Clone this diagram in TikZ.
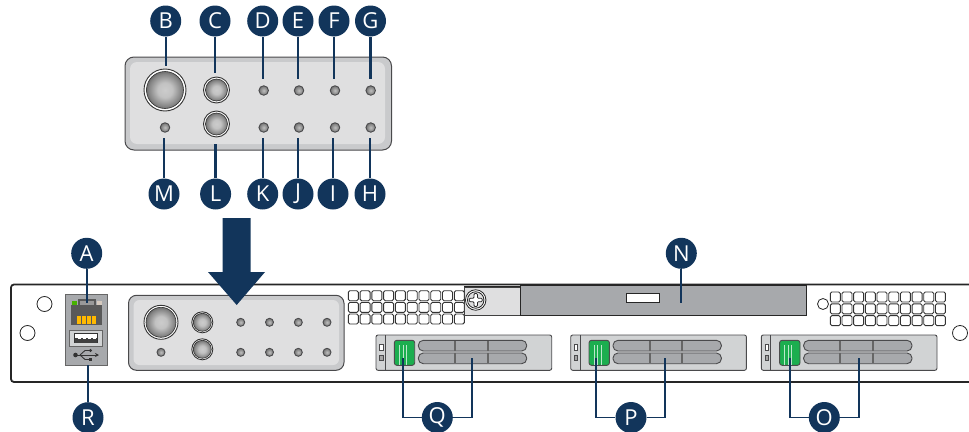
\documentclass[tikz,border=0pt]{standalone}
\usepackage{fontspec}
\setmainfont{Open Sans}
\usepackage{tikz}
\usetikzlibrary{arrows.meta,positioning,calc}
\definecolor{navy}{HTML}{12355B}
\definecolor{panelrim}{HTML}{C9CACC}
\definecolor{panelface}{HTML}{DFDFE0}
\definecolor{metal}{HTML}{A7A9AC}
\definecolor{baygray}{HTML}{D1D3D4}
\definecolor{edge}{HTML}{4A4A4C}
\definecolor{hddgreen}{HTML}{1CAE4F}
\pgfdeclareradialshading{btnshade}{\pgfpointorigin}{color(0bp)=(black!20); color(10bp)=(black!24); color(22bp)=(black!48); color(34bp)=(black!82); color(50bp)=(black!82)}
\begin{document}
\begin{tikzpicture}[x=1pt, y=-1pt,
    lbl/.style={circle, fill=navy, text=white, minimum size=31pt, inner sep=0pt, font=\fontsize{22}{22}\selectfont},
    lead/.style={draw=navy, line width=2.4pt},
    leadthin/.style={draw=navy, line width=1.8pt},
    led/.style={circle, draw=edge, line width=0.9pt, inner color=black!25, outer color=black!55, inner sep=0pt},
    ring/.style={circle, draw=black!80, line width=0.9pt, fill=white, inner sep=0pt},
    btn/.style={circle, draw=black!80, line width=0.6pt, shading=btnshade, inner sep=0pt},
    hole/.style={circle, draw=black!85, line width=0.8pt, fill=white, inner sep=0pt},
    vent/.style={draw=black!80, line width=0.9pt, fill=white, rounded corners=1.5pt, minimum width=10pt, minimum height=10pt, inner sep=0pt},
    slot/.style={draw=edge, line width=0.9pt, fill=metal, rounded corners=5pt}
]
\useasboundingbox (0,0) rectangle (969,431);

% chassis
\draw[black!85, line width=1.8pt, rounded corners=3pt] (971,284.5) -- (11,284.5) -- (11,382) -- (971,382);
\node[hole, minimum size=15pt] (holeA) at (44.5,304) {};
\node[hole, minimum size=15pt] (holeB) at (27.5,333) {};
\node[hole, minimum size=11pt] (holeC) at (823,304) {};
\node[hole, minimum size=15pt] (holeD) at (960,333) {};

% vents
\foreach \r in {0,1,2}
  \foreach \c in {0,...,9} {
    \node[vent] (ventL\r\c) at ({353.3+\c*11.78},{295.7+\r*11.67}) {};
    \node[vent] (ventR\r\c) at ({835.3+\c*11.68},{297+\r*11.8}) {};
  }

% top panel
\draw[edge, line width=1pt, fill=panelrim, rounded corners=9pt] (125,57) rectangle (391.5,150);
\fill[panelface, rounded corners=7pt] (130,62) rectangle (385,144);
\node[ring, minimum size=42pt] (ringB) at (165,90) {};
\node[btn, minimum size=37pt] (btnB) at (165,90) {};
\node[ring, minimum size=26pt] (ringC) at (216.5,90) {};
\node[btn, minimum size=22pt] (btnC) at (216.5,90) {};
\node[ring, minimum size=26pt] (ringL) at (216.5,124) {};
\node[btn, minimum size=22pt] (btnL) at (216.5,124) {};
\node[led, minimum size=9.5pt] (ledM) at (165,127.5) {};
\foreach \n/\x in {D/263.7,E/299,F/335,G/370.7}
  \node[led, minimum size=9.5pt] (led\n) at (\x,90.5) {};
\foreach \n/\x in {K/263.7,J/299,I/335,H/370.7}
  \node[led, minimum size=9.5pt] (led\n) at (\x,127.5) {};

% labels of top panel
\foreach \n/\x/\e in {B/165.7/66,C/215/72.7,D/262.7/78.7,E/298/78.7,F/334/78.7,G/370.5/78.7} {
  \node[lbl] (lbl\n) at (\x,21) {\n};
  \coordinate (end\n) at (\x,\e);
  \draw[lead] (lbl\n) -- (end\n);
}
\foreach \n/\x/\e in {M/164/138,L/215.6/144,K/262.7/138,J/298/138,I/333/138,H/370/138} {
  \node[lbl] (lbl\n) at (\x,194) {\n};
  \coordinate (end\n) at (\x,\e);
  \draw[lead] (lbl\n) -- (end\n);
}

% small panel
\draw[edge, line width=1pt, fill=panelrim, rounded corners=8pt] (128.5,295.3) rectangle (344,370.3);
\fill[panelface, rounded corners=6pt] (133.5,300) rectangle (339,365);
\node[ring, minimum size=34pt] (ringBs) at (161,322.3) {};
\node[btn, minimum size=30pt] (btnBs) at (161,322.3) {};
\node[ring, minimum size=21pt] (ringCs) at (202.3,322.3) {};
\node[btn, minimum size=18pt] (btnCs) at (202.3,322.3) {};
\node[ring, minimum size=21pt] (ringLs) at (202.3,349.3) {};
\node[btn, minimum size=18pt] (btnLs) at (202.3,349.3) {};
\node[led, minimum size=8pt] (ledMs) at (161,352.3) {};
\foreach \i/\x in {1/240.7,2/269.5,3/298.3,4/327} {
  \node[led, minimum size=8pt] (ledUs\i) at (\x,322.3) {};
  \node[led, minimum size=8pt] (ledDs\i) at (\x,352.3) {};
}

% big arrow
\fill[navy] (222.7,218) -- (250.7,218) -- (250.7,272) -- (265,272) -- (236.7,305) -- (208,272) -- (222.7,272) -- cycle;

% io block
\draw[black!60, line width=0.8pt, fill=metal] (65,294) rectangle (107.5,365);
\fill[black!65] (71,305) rectangle (102,324.5);
\fill[black!65] (77.5,299) rectangle (96,305);
\fill[black!40] (79.5,301) rectangle (94,305);
\fill[green!60!yellow!70!black] (72,301) rectangle (77,305);
\fill[orange!35!black!25] (97,301) rectangle (101.5,305);
\foreach \x in {76.5,81.7,86.9,92.1}
  \fill[orange!55!yellow] (\x,316) rectangle +(4.2,8);
\draw[black!60, line width=0.8pt, fill=baygray] (69.7,330) rectangle (102.3,346.7);
\draw[black!80, line width=0.8pt, fill=white] (74.5,333.5) rectangle (97.5,342.5);
\fill[black!75] (75,337.5) rectangle (97,342.5);
\foreach \x in {78,83,88,93}
  \fill[white] (\x,337.5) rectangle +(2.5,1.5);
\draw[black!80, line width=0.9pt, -{Stealth[length=4pt,width=4pt]}] (74,355) -- (99,355);
\fill[black!80] (75.5,355) circle (2.3pt);
\draw[black!80, line width=0.9pt] (80,355) -- (85,350.5) -- (89,350.5);
\draw[black!80, line width=0.9pt] (80,355) -- (85,359.5) -- (89,359.5);
\fill[black!80] (90.5,350.5) circle (1.6pt);
\fill[black!80] (89,358) rectangle (92,361);

% tray and screw
\draw[black!75, line width=0.8pt, fill=panelface] (464.3,287.7) rectangle (520.3,315);
\draw[black!85, line width=1pt, fill=metal] (520.3,285.5) rectangle (806.7,315.3);
\fill[black!85] (464.3,285.5) rectangle (520.3,287.2);
\draw[black!85, line width=0.8pt, fill=white] (626,293.7) rectangle (659.3,302);
\node[hole, minimum size=20.5pt] (screwA) at (475.7,300) {};
\node[hole, minimum size=16.5pt, fill=panelface] (screwB) at (475.7,300) {};
\draw[black!85, line width=0.8pt, fill=white, rounded corners=1pt]
  (474,293.5) -- (477.4,293.5) -- (477.4,298.3) -- (482.2,298.3) -- (482.2,301.7) -- (477.4,301.7) -- (477.4,306.5) -- (474,306.5) -- (474,301.7) -- (469.2,301.7) -- (469.2,298.3) -- (474,298.3) -- cycle;

% drive bays
\foreach \n/\d in {Q/0,P/194.7,O/385.3} {
\begin{scope}[xshift=\d pt]
  \draw[edge, line width=0.9pt, fill=baygray, rounded corners=2pt] (376,335) rectangle (551.7,370.3);
  \draw[edge, line width=0.9pt] (385.3,335) -- (385.3,370.3);
  \draw[edge, line width=0.7pt, fill=white] (379.8,344.5) rectangle (383,350);
  \draw[edge, line width=0.7pt, fill=black!35] (379.8,355) rectangle (383,360.5);
  \draw[black!70, line width=0.9pt, fill=hddgreen, rounded corners=2.5pt] (394.3,340.3) rectangle (414.7,365.3);
  \foreach \x in {399.5,403,406.5}
    \draw[white!70!hddgreen, line width=0.8pt] (\x,345) -- (\x,364.5);
  \draw[slot] (418.3,340.3) rectangle (526.7,351);
  \draw[slot] (418.3,353) rectangle (526.7,363.7);
  \foreach \x in {455,487.7} {
    \fill[black!60] (\x-1,340.7) rectangle (\x+1,350.6);
    \fill[black!60] (\x-1,353.4) rectangle (\x+1,363.3);
  }
\end{scope}
}

% labels of front
\node[lbl] (lblA) at (86.7,253.3) {A};
\coordinate (endA) at (86.7,303);
\draw[leadthin] (lblA) -- (endA);
\node[lbl] (lblR) at (88,417.7) {R};
\coordinate (endR) at (88,365);
\draw[leadthin] (lblR) -- (endR);
\node[lbl] (lblN) at (681.3,253.3) {N};
\coordinate (endN) at (681.3,303.3);
\draw[leadthin] (lblN) -- (endN);
\foreach \n/\x/\a/\b in {Q/437.3/402.7/472,P/631/596.3/665.3,O/824.3/790/859} {
  \node[lbl] (lbl\n) at (\x,417.5) {\n};
  \coordinate (end\n a) at (\a,358);
  \coordinate (end\n b) at (\b,358);
  \draw[leadthin] (lbl\n) -| (end\n a);
  \draw[leadthin] (lbl\n) -| (end\n b);
}
\end{tikzpicture}
\end{document}
